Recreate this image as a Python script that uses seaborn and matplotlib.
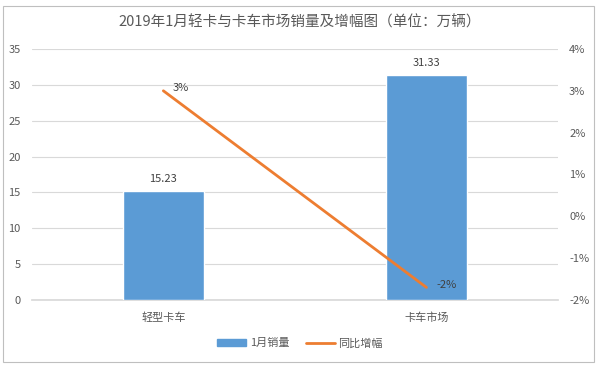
import matplotlib
matplotlib.use("Agg")
import matplotlib.pyplot as plt
import matplotlib.patches as mpatches
from matplotlib.lines import Line2D
from matplotlib.ticker import FuncFormatter
import pandas as pd
import seaborn as sns

# data
categories = ["轻型卡车", "卡车市场"]
sales = [15.23, 31.33]          # 1月销量 (万辆)
growth = [0.030, -0.017]        # 同比增幅
title = "2019年1月轻卡与卡车市场销量及增幅图（单位：万辆）"

sns.set_theme(style="white")
plt.rcParams["font.family"] = ["Noto Sans CJK SC", "DejaVu Sans"]
txt = "#595959"
blue = "#5B9BD5"
orange = "#ED7D31"

df = pd.DataFrame({"cat": categories, "sales": sales, "growth": growth})

fig = plt.figure(figsize=(6, 3.67), dpi=100)
fig.patch.set_facecolor("white")
ax = fig.add_axes([0.053, 0.1826, 0.877, 0.684])

sns.barplot(data=df, x="cat", y="sales", color=blue, width=0.31,
            saturation=1, ax=ax, zorder=3)
ax.set_xlim(-0.5, 1.5)
ax.set_ylim(0, 35)
ax.set_yticks(range(0, 36, 5))
ax.yaxis.grid(True, color="#D9D9D9", linewidth=0.8, zorder=0)
ax.set_axisbelow(True)
ax.set_xlabel("")
ax.set_ylabel("")
for s in ax.spines.values():
    s.set_visible(False)
ax.spines["bottom"].set_visible(True)
ax.spines["bottom"].set_color("#D9D9D9")
ax.tick_params(axis="both", length=0, labelsize=8, colors=txt)
ax.tick_params(axis="y", pad=8)
ax.tick_params(axis="x", pad=9)
for i, v in enumerate(sales):
    ax.annotate(f"{v:.2f}", (i, v), xytext=(0, 5), textcoords="offset points",
                ha="center", va="bottom", fontsize=8, color="#404040")

ax2 = ax.twinx()
sns.lineplot(data=df, x="cat", y="growth", color=orange, linewidth=2,
             ax=ax2, sort=False)
ax2.set_ylim(-0.02, 0.04)
ax2.set_yticks([-0.02, -0.01, 0, 0.01, 0.02, 0.03, 0.04])
ax2.yaxis.set_major_formatter(FuncFormatter(lambda v, p: f"{v*100:.0f}%"))
ax2.set_ylabel("")
for s in ax2.spines.values():
    s.set_visible(False)
ax2.tick_params(axis="y", length=0, labelsize=8, colors=txt, pad=8)
ax2.set_xlim(-0.5, 1.5)
for i, v in enumerate(growth):
    ax2.annotate(f"{v*100:.0f}%", (i, v), xytext=(7, 2), textcoords="offset points",
                 ha="left", va="center", fontsize=8, color="#404040")

fig.text(0.5, 0.94, title, ha="center", va="center", fontsize=10.5, color=txt)

handles = [mpatches.Patch(color=blue, label="1月销量"),
           Line2D([0], [0], color=orange, linewidth=2, label="同比增幅")]
fig.legend(handles=handles, loc="center", bbox_to_anchor=(0.5, 0.065), ncol=2,
           frameon=False, fontsize=8, labelcolor=txt, handlelength=2.6,
           handleheight=0.6, columnspacing=1.5, handletextpad=0.3)

# chart area border
fig.patches.append(mpatches.Rectangle((0.005, 0.013), 0.985, 0.972,
                                      transform=fig.transFigure, fill=False,
                                      edgecolor="#BFBFBF", linewidth=0.8))

fig.savefig("out.png", dpi=100, facecolor="white")
